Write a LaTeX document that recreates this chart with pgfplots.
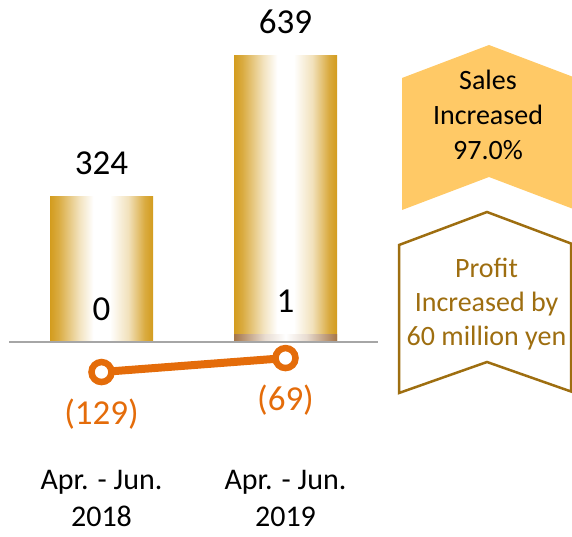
\documentclass[border=0pt]{standalone}
\usepackage{fontspec}
\setmainfont{Carlito}
\usepackage{pgfplots}
\pgfplotsset{compat=1.18}

\definecolor{barGold}{HTML}{D39C1E}
\definecolor{stripBrown}{HTML}{A57548}
\definecolor{lossOrange}{HTML}{E46C0A}
\definecolor{salesFill}{HTML}{FFC966}
\definecolor{profitBrown}{HTML}{9E6E10}
\definecolor{baseGray}{HTML}{A6A6A6}

% gold - white - gold across each bar
\pgfdeclarehorizontalshading{goldbar}{100bp}{color(0bp)=(barGold); color(25bp)=(barGold);
  color(29bp)=(barGold!85!white); color(39bp)=(barGold!30!white); color(46bp)=(white);
  color(54bp)=(white); color(63bp)=(barGold!30!white); color(71bp)=(barGold!85!white);
  color(75bp)=(barGold); color(100bp)=(barGold)}
\pgfdeclarehorizontalshading{brownstrip}{100bp}{color(0bp)=(stripBrown); color(25bp)=(stripBrown);
  color(40bp)=(stripBrown!25!white); color(50bp)=(white); color(60bp)=(stripBrown!25!white);
  color(75bp)=(stripBrown); color(100bp)=(stripBrown)}

\pgfplotsset{
  salesbar/.style={ybar, bar width=103pt, bar shift=0pt, draw=none, shading=goldbar, shade,
    nodes near coords,
    every node near coord/.append style={anchor=base, inner sep=0pt, yshift=22pt,
      font=\fontsize{35}{42}\selectfont, text=black}},
}

\begin{document}
\begin{tikzpicture}
\useasboundingbox (0,0) rectangle (572pt,536pt);

% sales bars
\begin{axis}[
  at={(9.5pt,61pt)}, anchor=south west,
  width=368pt, height=475pt, scale only axis,
  xmin=-0.5, xmax=1.5, ymin=-297.1, ymax=764.1,
  axis line style={draw=none}, major tick length=0pt,
  ytick=\empty, xtick={0,1},
  xticklabels={{Apr. - Jun.\\2018},{Apr. - Jun.\\2019}},
  xticklabel style={font=\fontsize{30}{37}\selectfont, align=center, inner sep=0pt,
    anchor=north, yshift=5pt, text=black},
  clip=false,
  /pgf/number format/assume math mode=true,
]
% one plot per bar so each bar gets its own shading
\addplot[salesbar] coordinates {(0,324)};
\addplot[salesbar] coordinates {(1,639)};
\addplot[ybar, bar width=103pt, bar shift=0pt, draw=none, shading=brownstrip, shade]
  coordinates {(1,16)};
\draw[baseGray, line width=2pt] (axis cs:-0.5,0) -- (axis cs:1.5,0);
\node[anchor=base, font=\fontsize{35}{42}\selectfont] at (axis cs:0,49) {0};
\node[anchor=base, font=\fontsize{35}{42}\selectfont] at (axis cs:1,65) {1};
\end{axis}

% profit (loss) line, own scale
\begin{axis}[
  at={(9.5pt,61pt)}, anchor=south west,
  width=368pt, height=475pt, scale only axis,
  xmin=-0.5, xmax=1.5, ymin=-570.8, ymax=1467.8,
  hide axis, clip=false,
]
\addplot[lossOrange, line width=8pt, mark=*, mark size=10pt,
  mark options={fill=white, draw=lossOrange, line width=6.5pt},
  point meta=explicit symbolic, nodes near coords,
  every node near coord/.append style={anchor=base, inner sep=0pt, yshift=-52pt,
    font=\fontsize{35}{42}\selectfont, text=lossOrange}]
  coordinates {(0,-129) [(129)] (1,-69) [(69)]};
\end{axis}

% callouts
\fill[salesFill] (402pt,458pt) -- (489pt,491pt) -- (576pt,458pt) -- (576pt,326pt)
  -- (489pt,359pt) -- (402pt,326pt) -- cycle;
\node[anchor=base, font=\fontsize{28}{35}\selectfont] at (488pt,446pt) {Sales};
\node[anchor=base, font=\fontsize{28}{35}\selectfont] at (488pt,411pt) {Increased};
\node[anchor=base, font=\fontsize{28}{35}\selectfont] at (488pt,376pt) {97.0\%};

\draw[profitBrown, line width=2.5pt, fill=white] (399pt,291pt) -- (487pt,324pt) -- (571pt,292.5pt)
  -- (571pt,144.5pt) -- (487pt,174pt) -- (399pt,143pt) -- cycle;
\begin{scope}[every node/.style={anchor=base, font=\fontsize{28}{34}\selectfont, text=profitBrown}]
\node at (486.5pt,259pt) {Profit};
\node at (486.5pt,225pt) {Increased by};
\node at (486.5pt,191pt) {60 million yen};
\end{scope}
\end{tikzpicture}
\end{document}
